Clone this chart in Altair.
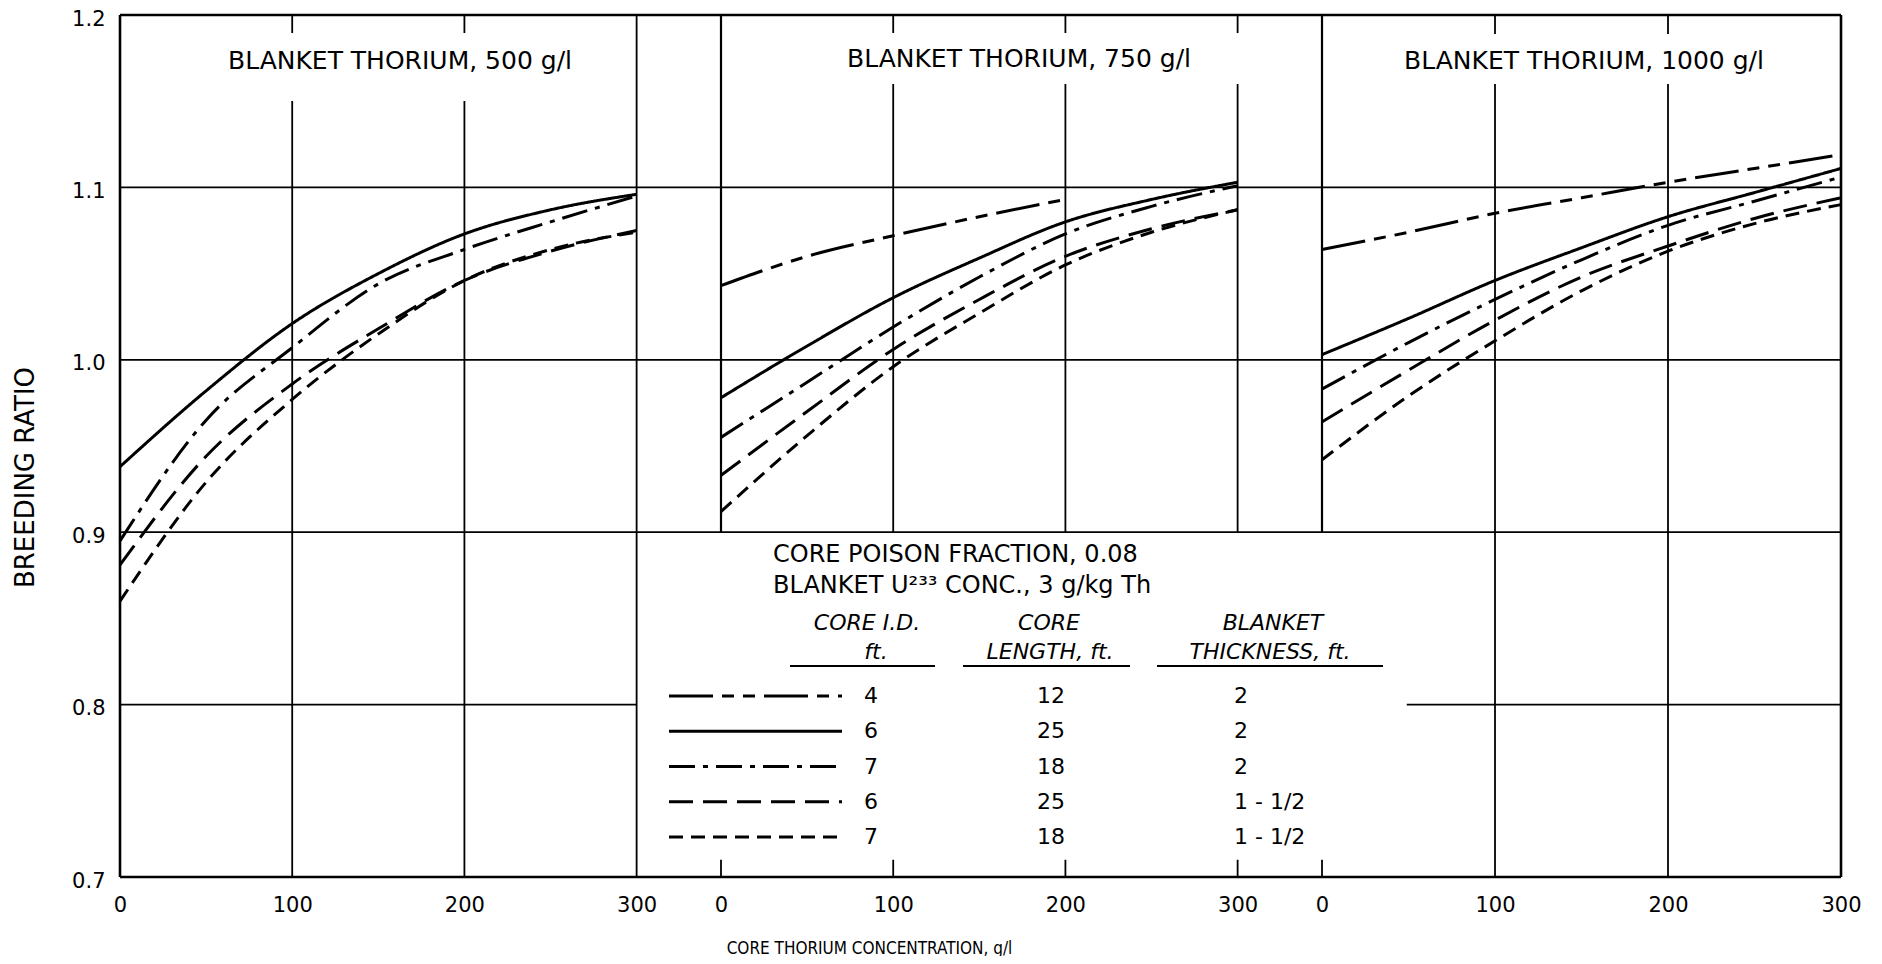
import altair as alt
import pandas as pd

FONT = "DejaVu Sans"
FONT_NARROW = "DejaVu Sans Condensed, DejaVu Sans"

# ------------------------------------------------------------------ data
series_keys = ["4-12-2", "6-25-2", "7-18-2", "6-25-1.5", "7-18-1.5"]
core_id_ft = ["4", "6", "7", "6", "7"]
core_length_ft = ["12", "25", "18", "25", "18"]
blanket_thickness_ft = ["2", "2", "2", "1 - 1/2", "1 - 1/2"]

core_thorium = [0, 50, 100, 150, 200, 250, 300]
core_thorium_short = [0, 50, 100, 150, 200]
x_tick_values = [0, 100, 200, 300]
y_tick_values = [0.7, 0.8, 0.9, 1.0, 1.1, 1.2]

panel_titles = ["BLANKET THORIUM, 500 g/l", "BLANKET THORIUM, 750 g/l", "BLANKET THORIUM, 1000 g/l"]
heading_lines = ["CORE POISON FRACTION, 0.08", "BLANKET U\u00b2\u00b3\u00b3 CONC., 3 g/kg Th"]
column_head_top = ["CORE I.D.", "CORE", "BLANKET"]
column_head_bottom = ["ft.", "LENGTH, ft.", "THICKNESS, ft."]
x_title = "CORE THORIUM CONCENTRATION, g/l"
y_title = "BREEDING RATIO"

# blanket thorium 500 g/l
b500_id6_l25_t2 = [0.938, 0.982, 1.021, 1.050, 1.073, 1.087, 1.096]
b500_id7_l18_t2 = [0.895, 0.965, 1.007, 1.044, 1.064, 1.080, 1.095]
b500_id6_l25_t15 = [0.881, 0.944, 0.986, 1.018, 1.046, 1.063, 1.075]
b500_id7_l18_t15 = [0.860, 0.929, 0.977, 1.015, 1.046, 1.064, 1.074]
# blanket thorium 750 g/l
b750_id4_l12_t2 = [1.043, 1.060, 1.072, 1.083, 1.093]
b750_id6_l25_t2 = [0.978, 1.008, 1.036, 1.059, 1.080, 1.093, 1.103]
b750_id7_l18_t2 = [0.955, 0.987, 1.019, 1.048, 1.073, 1.089, 1.101]
b750_id6_l25_t15 = [0.933, 0.970, 1.006, 1.035, 1.060, 1.076, 1.087]
b750_id7_l18_t15 = [0.912, 0.956, 0.996, 1.027, 1.055, 1.074, 1.087]
# blanket thorium 1000 g/l
b1000_id4_l12_t2 = [1.064, 1.074, 1.085, 1.094, 1.103, 1.111, 1.119]
b1000_id6_l25_t2 = [1.003, 1.024, 1.046, 1.065, 1.083, 1.097, 1.111]
b1000_id7_l18_t2 = [0.983, 1.010, 1.035, 1.058, 1.078, 1.092, 1.106]
b1000_id6_l25_t15 = [0.964, 0.994, 1.023, 1.048, 1.066, 1.082, 1.094]
b1000_id7_l18_t15 = [0.942, 0.979, 1.011, 1.040, 1.063, 1.079, 1.090]

# ------------------------------------------------------------------ layout
PLOT_H = 862
W_WIDE, W_LAST = 601, 519
XMAX_WIDE, XMAX_LAST = 349, 300
BW, GW, CW = 2.6, 1.8, 3.0

Y_SCALE = alt.Scale(domain=[0.7, 1.2], nice=False, zero=False)
DASH_SCALE = alt.Scale(
    domain=series_keys,
    range=[[44, 9, 12, 9, 12, 9], [1, 0], [26, 8, 5, 8], [24, 10], [14, 8]],
)
ONE = pd.DataFrame({"k": [0]})


def xscale(xmax):
    return alt.Scale(domain=[0, xmax], nice=False, zero=False)


def vlines(xs, lo, hi, w):
    return [(v, v, lo, hi, w) for v in xs]


def hlines(ys, lo, hi, w):
    return [(lo, hi, v, v, w) for v in ys]


def x_axis(title=None, title_x=None):
    kw = dict(values=x_tick_values, labelFlush=False, labelOverlap=False, domain=False,
              ticks=False, grid=False, labelFont=FONT, labelFontSize=21, labelColor="black",
              labelPadding=28, labelBaseline="middle")
    if title is None:
        kw["title"] = None
    else:
        kw.update(title=title, titleFont=FONT_NARROW, titleFontSize=17, titleFontWeight="normal",
                  titleColor="black", titleX=title_x, titleY=71, titleAlign="center",
                  titleBaseline="middle", titleAngle=0)
    return alt.Axis(**kw)


Y_AXIS = alt.Axis(values=y_tick_values, format=".1f", domain=False, ticks=False, grid=False,
                  labelFont=FONT, labelFontSize=21, labelColor="black", labelPadding=15,
                  labelOffset=4, title=y_title, titleFont=FONT, titleFontSize=26,
                  titleFontWeight="normal", titleColor="black", titleX=-82, titleY=462,
                  titleAngle=270, titleAlign="center", titleBaseline="bottom")
NO_AXIS = None


def grid_layer(segments, xs, xax, yax):
    df = pd.DataFrame(segments, columns=["x", "x2", "y", "y2", "w"])
    return alt.Chart(df).mark_rule(color="black").encode(
        x=alt.X("x:Q", scale=xs, axis=xax),
        x2="x2:Q",
        y=alt.Y("y:Q", scale=Y_SCALE, axis=yax),
        y2="y2:Q",
        strokeWidth=alt.StrokeWidth("w:Q", scale=None),
    )


def curve_layer(entries, xs, xax, yax):
    rows = []
    for key, xv, yv in entries:
        for a, b in zip(xv, yv):
            rows.append((key, a, b))
    df = pd.DataFrame(rows, columns=["series", "conc", "ratio"])
    return alt.Chart(df).mark_line(color="black", strokeWidth=CW, interpolate="monotone").encode(
        x=alt.X("conc:Q", scale=xs, axis=xax),
        y=alt.Y("ratio:Q", scale=Y_SCALE, axis=yax),
        strokeDash=alt.StrokeDash("series:N", scale=DASH_SCALE, legend=None),
    )


def white_box(x0, x1, y0, y1):
    return alt.Chart(ONE).mark_rect(color="white").encode(
        x=alt.value(x0), x2=alt.value(x1), y=alt.value(y0), y2=alt.value(y1))


def label(text, px, py, size=21, align="center", italic=False):
    return alt.Chart(ONE).mark_text(
        text=text, font=FONT, fontSize=size, align=align, baseline="middle", color="black",
        fontStyle="italic" if italic else "normal").encode(x=alt.value(px), y=alt.value(py))


def underline(x0, x1, py):
    return alt.Chart(ONE).mark_rule(color="black", strokeWidth=2.2).encode(
        x=alt.value(x0), x2=alt.value(x1), y=alt.value(py))


# ------------------------------------------------------------------ panel 1
xs1 = xscale(XMAX_WIDE)
xax1 = x_axis()
seg1 = (vlines([0], 0.7, 1.2, BW) + vlines([100, 200, 300], 0.7, 1.2, GW)
        + hlines([0.7, 1.2], 0, XMAX_WIDE, BW) + hlines([0.9, 1.0, 1.1], 0, XMAX_WIDE, GW)
        + hlines([0.8], 0, 300, GW))
p1 = alt.layer(
    grid_layer(seg1, xs1, xax1, Y_AXIS),
    white_box(69, 491, 18, 86),
    label(panel_titles[0], 280, 46, size=25),
    curve_layer([
        ("6-25-2", core_thorium, b500_id6_l25_t2),
        ("7-18-2", core_thorium, b500_id7_l18_t2),
        ("6-25-1.5", core_thorium, b500_id6_l25_t15),
        ("7-18-1.5", core_thorium, b500_id7_l18_t15),
    ], xs1, xax1, Y_AXIS),
).properties(width=W_WIDE, height=PLOT_H)

# ------------------------------------------------------------------ panel 2 (+ key)
xs2 = xscale(XMAX_WIDE)
xax2 = x_axis(x_title, 148)
seg2 = (vlines([0], 0.9, 1.2, 2.2) + vlines([100, 200, 300], 0.9, 1.2, GW)
        + vlines(x_tick_values, 0.7, 0.71, GW)
        + hlines([0.7, 1.2], 0, XMAX_WIDE, BW) + hlines([0.9, 1.0, 1.1], 0, XMAX_WIDE, GW))

ROW0, ROWSTEP = 681, 35.25
key_df = pd.DataFrame({
    "series": series_keys,
    "core_id": core_id_ft,
    "core_length": core_length_ft,
    "blanket": blanket_thickness_ft,
    "row": list(range(len(series_keys))),
})
key_base = alt.Chart(key_df).transform_calculate(
    ypos=f"1.2 - ({ROW0} + datum.row * {ROWSTEP}) * 0.5 / {PLOT_H}")
key_y = alt.Y("ypos:Q", scale=Y_SCALE, axis=NO_AXIS)
key_lines = key_base.mark_rule(color="black", strokeWidth=CW).encode(
    x=alt.value(-52), x2=alt.value(121), y=key_y,
    strokeDash=alt.StrokeDash("series:N", scale=DASH_SCALE, legend=None))
txt = dict(font=FONT, fontSize=22, baseline="middle", color="black")
key_id = key_base.mark_text(align="left", **txt).encode(x=alt.value(143), y=key_y, text="core_id:N")
key_len = key_base.mark_text(align="center", **txt).encode(x=alt.value(330), y=key_y, text="core_length:N")
key_bt = key_base.mark_text(align="left", **txt).encode(x=alt.value(513), y=key_y, text="blanket:N")

p2 = alt.layer(
    grid_layer(seg2, xs2, xax2, NO_AXIS),
    white_box(68, 523, 18, 69),
    label(panel_titles[1], 298, 44, size=25),
    curve_layer([
        ("4-12-2", core_thorium_short, b750_id4_l12_t2),
        ("6-25-2", core_thorium, b750_id6_l25_t2),
        ("7-18-2", core_thorium, b750_id7_l18_t2),
        ("6-25-1.5", core_thorium, b750_id6_l25_t15),
        ("7-18-1.5", core_thorium, b750_id7_l18_t15),
    ], xs2, xax2, NO_AXIS),
    label(heading_lines[0], 52, 540, size=24, align="left"),
    label(heading_lines[1], 52, 571, size=24, align="left"),
    label(column_head_top[0], 146, 608, size=22, italic=True),
    label(column_head_bottom[0], 155, 637, size=22, italic=True),
    label(column_head_top[1], 328, 608, size=22, italic=True),
    label(column_head_bottom[1], 329, 637, size=22, italic=True),
    label(column_head_top[2], 552, 608, size=22, italic=True),
    label(column_head_bottom[2], 549, 637, size=22, italic=True),
    underline(69, 214, 651),
    underline(242, 409, 651),
    underline(436, 662, 651),
    key_lines, key_id, key_len, key_bt,
).properties(width=W_WIDE, height=PLOT_H)

# ------------------------------------------------------------------ panel 3
xs3 = xscale(XMAX_LAST)
xax3 = x_axis()
seg3 = (vlines([0], 0.9, 1.2, 2.2) + vlines([0], 0.7, 0.71, GW)
        + vlines([100, 200], 0.7, 1.2, GW) + vlines([300], 0.7, 1.2, BW)
        + hlines([0.7, 1.2], 0, XMAX_LAST, BW) + hlines([0.9, 1.0, 1.1], 0, XMAX_LAST, GW)
        + hlines([0.8], 49, 300, GW))
p3 = alt.layer(
    grid_layer(seg3, xs3, xax3, NO_AXIS),
    white_box(17, 497, 19, 69),
    label(panel_titles[2], 262, 46, size=25),
    curve_layer([
        ("4-12-2", core_thorium, b1000_id4_l12_t2),
        ("6-25-2", core_thorium, b1000_id6_l25_t2),
        ("7-18-2", core_thorium, b1000_id7_l18_t2),
        ("6-25-1.5", core_thorium, b1000_id6_l25_t15),
        ("7-18-1.5", core_thorium, b1000_id7_l18_t15),
    ], xs3, xax3, NO_AXIS),
).properties(width=W_LAST, height=PLOT_H)

chart = alt.hconcat(p1, p2, p3, spacing=0, bounds="flush").properties(
    padding={"left": 4, "top": 0, "right": 0, "bottom": 0},
    background="white",
).configure_view(stroke=None)

chart.save("out.html", embed_options={"renderer": "svg", "actions": False})
